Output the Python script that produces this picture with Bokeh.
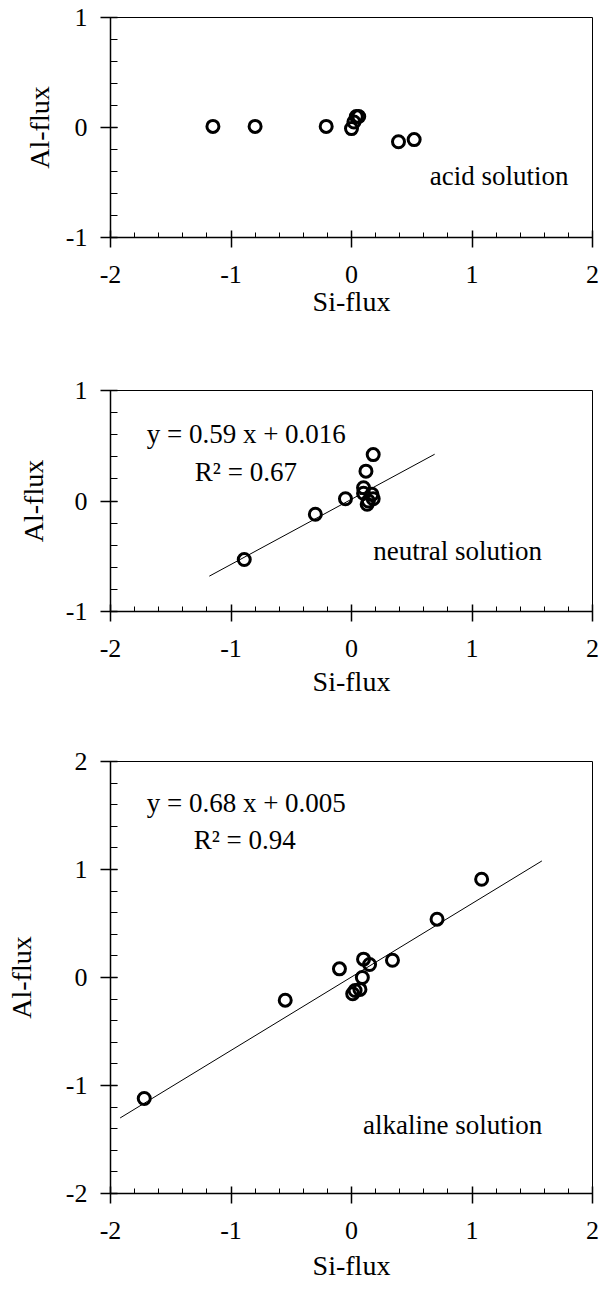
from bokeh.plotting import figure
from bokeh.models import Range1d, FixedTicker
from bokeh.layouts import column
from bokeh.embed import file_html
from bokeh.resources import INLINE
from bokeh.core.properties import value

FONT = "Liberation Serif"

# ---- data ----
acid_si = [-1.15, -0.80, -0.21, 0.00, 0.02, 0.04, 0.06, 0.39, 0.52]
acid_al = [0.01, 0.01, 0.01, -0.01, 0.05, 0.10, 0.10, -0.13, -0.11]

neutral_si = [-0.89, -0.30, -0.05, 0.10, 0.10, 0.12, 0.18, 0.17, 0.14, 0.18, 0.13]
neutral_al = [-0.53, -0.12, 0.02, 0.12, 0.07, 0.27, 0.42, 0.06, 0.00, 0.02, -0.03]
neutral_slope, neutral_icpt = 0.59, 0.016
neutral_fit_x = [-1.18, 0.69]

alk_si = [-1.72, -0.55, -0.10, 0.01, 0.03, 0.07, 0.09, 0.10, 0.15, 0.34, 0.71, 1.08]
alk_al = [-1.12, -0.21, 0.08, -0.15, -0.12, -0.11, 0.00, 0.17, 0.12, 0.16, 0.54, 0.91]
alk_slope, alk_icpt = 0.68, 0.005
alk_fit_x = [-1.92, 1.58]

x_ticks = [-2, -1, 0, 1, 2]
y_ticks_small = [-1, 0, 1]
y_ticks_big = [-2, -1, 0, 1, 2]


def minor(lo, hi, step=0.2):
    n = int(round((hi - lo) / step))
    return [round(lo + i * step, 2) for i in range(n + 1)]


def make_panel(h, ymin, ymax, yticks, mb, ylab_standoff, xlab_standoff):
    p = figure(width=601, height=h, x_range=Range1d(-2, 2), y_range=Range1d(ymin, ymax),
               output_backend="svg", toolbar_location=None,
               min_border_left=mb[0], min_border_right=mb[1],
               min_border_top=mb[2], min_border_bottom=mb[3])
    p.xgrid.visible = False
    p.ygrid.visible = False
    p.outline_line_color = "black"
    p.outline_line_width = 1
    p.outline_line_alpha = 1
    p.background_fill_color = "white"
    p.border_fill_color = "white"

    xa = p.xaxis[0]
    xa.ticker = FixedTicker(ticks=x_ticks, minor_ticks=minor(-2, 2))
    xa.major_label_overrides = {t: str(t) for t in x_ticks}
    ya = p.yaxis[0]
    ya.ticker = FixedTicker(ticks=yticks, minor_ticks=minor(ymin, ymax))
    ya.major_label_overrides = {t: str(t) for t in yticks}
    for ax in (xa, ya):
        ax.axis_line_width = 1.5
        ax.axis_line_color = "black"
        ax.major_tick_line_width = 1.5
        ax.minor_tick_line_width = 1
        ax.major_tick_line_color = "black"
        ax.minor_tick_line_color = "black"
        ax.major_tick_in = 7
        ax.major_tick_out = 10
        ax.minor_tick_out = 0
        ax.major_label_text_font = FONT
        ax.major_label_text_font_size = "26px"
        ax.major_label_text_color = "black"
        ax.axis_label_text_font = FONT
        ax.axis_label_text_font_size = "28px"
        ax.axis_label_text_font_style = "normal"
        ax.axis_label_text_color = "black"
    xa.minor_tick_in = 5
    ya.minor_tick_in = 7
    xa.major_label_standoff = 18
    ya.major_label_standoff = 13
    xa.axis_label = "Si-flux"
    ya.axis_label = "Al-flux"
    xa.axis_label_standoff = xlab_standoff
    ya.axis_label_standoff = ylab_standoff
    return p


def scatter(p, x, y):
    p.scatter(x, y, marker="circle", size=12, fill_color=None,
              line_color="black", line_width=3)


def texts(p, xs, ys, labels):
    p.text(x=xs, y=ys, text=labels, text_font=value(FONT), text_font_size="27px",
           text_align="left", text_baseline="middle", text_color="black")


# top: acid
p1 = make_panel(345, -1, 1, y_ticks_small, (110, 8, 17, 108), 8, 0)
scatter(p1, acid_si, acid_al)
texts(p1, [0.65], [-0.44], ["acid solution"])

# middle: neutral
p2 = make_panel(370, -1, 1, y_ticks_small, (107, 8, 45, 104), 14, 6)
p2.line(neutral_fit_x, [neutral_slope * v + neutral_icpt for v in neutral_fit_x],
        line_color="black", line_width=1)
scatter(p2, neutral_si, neutral_al)
texts(p2, [-1.70, -1.30, 0.18], [0.61, 0.26, -0.45],
      ["y = 0.59 x + 0.016", "R\u00b2 = 0.67", "neutral solution"])

# bottom: alkaline
p3 = make_panel(577, -2, 2, y_ticks_big, (106, 9, 46, 99), 26, 8)
p3.line(alk_fit_x, [alk_slope * v + alk_icpt for v in alk_fit_x],
        line_color="black", line_width=1)
scatter(p3, alk_si, alk_al)
texts(p3, [-1.70, -1.31, 0.095], [1.62, 1.27, -1.37],
      ["y = 0.68 x + 0.005", "R\u00b2 = 0.94", "alkaline solution"])

layout = column(p1, p2, p3, spacing=0)
open("out.html", "w").write(file_html(layout, INLINE))
